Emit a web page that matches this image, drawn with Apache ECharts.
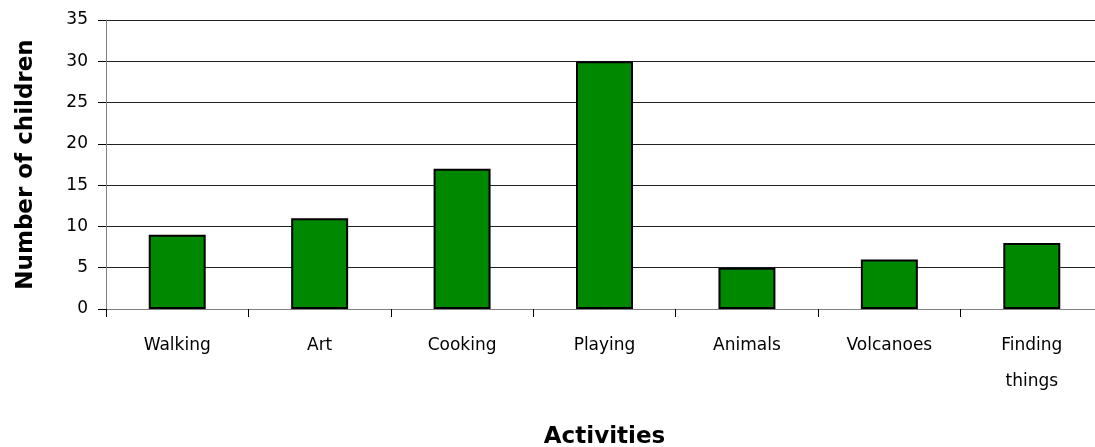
<!DOCTYPE html>
<html>
<head>
<meta charset="utf-8">
<script src="https://cdn.jsdelivr.net/npm/echarts@6/dist/echarts.min.js"></script>
<style>html,body{margin:0;padding:0;background:#fff;overflow:hidden;}#c{width:1095px;height:447px;}</style>
</head>
<body>
<div id="c"></div>
<script>
const categories = ['Walking', 'Art', 'Cooking', 'Playing', 'Animals', 'Volcanoes', 'Finding\nthings'];
const children = [9, 11, 17, 30, 5, 6, 8];
const yTicks = { min: 0, max: 35, interval: 5 };

const font = '"DejaVu Sans", sans-serif';
const chart = echarts.init(document.getElementById('c'), null, { renderer: 'canvas' });
chart.setOption({
  animation: false,
  backgroundColor: '#fff',
  grid: { left: 106, right: -8, top: 20, bottom: 138, containLabel: false, outerBoundsMode: 'none' },
  xAxis: {
    type: 'category',
    data: categories,
    name: 'Activities',
    nameLocation: 'middle',
    nameGap: 117,
    nameTextStyle: { fontFamily: font, fontSize: 23, fontWeight: 'bold', color: '#000' },
    axisLine: { lineStyle: { color: '#7f7f7f', width: 1 } },
    axisTick: { show: true, length: 8, lineStyle: { color: '#000' } },
    axisLabel: { fontFamily: font, fontSize: 17, color: '#000', margin: 19, lineHeight: 36, interval: 0 }
  },
  yAxis: {
    type: 'value',
    min: yTicks.min, max: yTicks.max, interval: yTicks.interval,
    name: 'Number of children',
    nameLocation: 'middle',
    nameGap: 68,
    nameTextStyle: { fontFamily: font, fontSize: 23, fontWeight: 'bold', color: '#000' },
    axisLine: { show: true, lineStyle: { color: '#7f7f7f', width: 1 } },
    axisTick: { show: true, length: 8, lineStyle: { color: '#000' } },
    axisLabel: { fontFamily: font, fontSize: 17, color: '#000', margin: 18 },
    splitLine: { show: true, lineStyle: { color: '#222', width: 1 } }
  },
  series: [{
    type: 'bar',
    data: children,
    barCategoryGap: '60%',
    itemStyle: { color: '#008800', borderColor: '#000', borderWidth: 2 }
  }]
});
</script>
</body>
</html>
